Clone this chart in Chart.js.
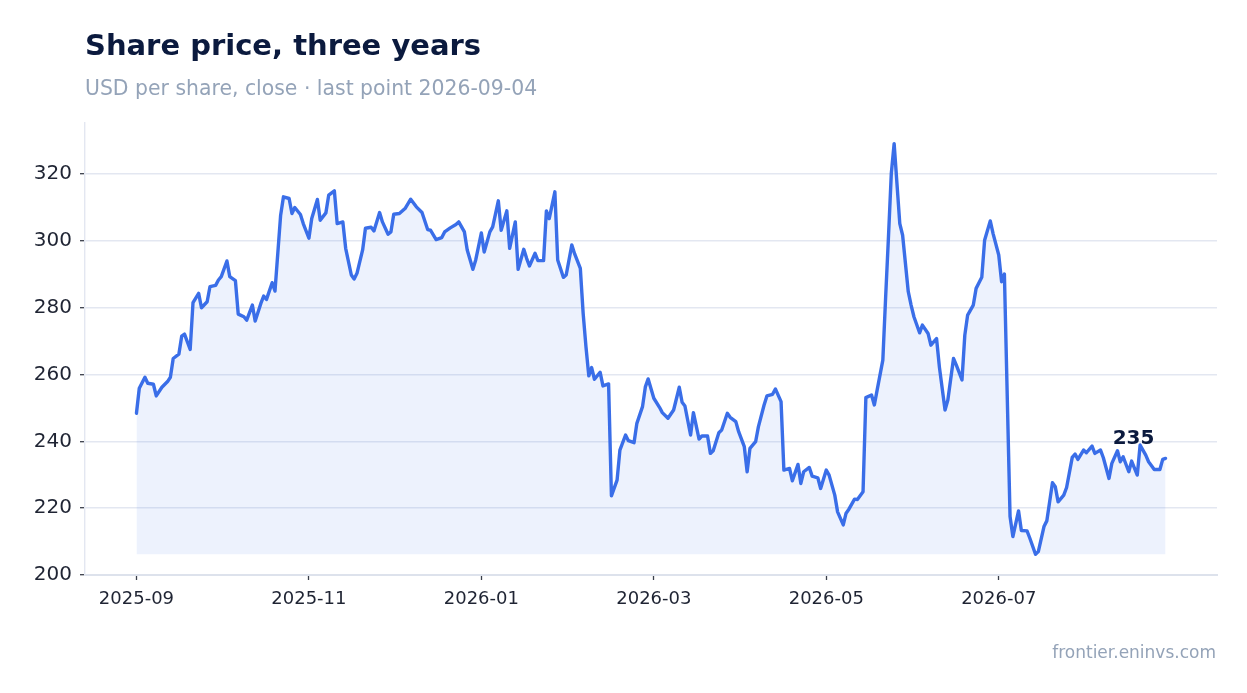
<!DOCTYPE html>
<html>
<head>
<meta charset="utf-8">
<script src="https://cdn.jsdelivr.net/npm/chart.js@4/dist/chart.umd.min.js"></script>
<style>
  html, body { margin: 0; padding: 0; background: #ffffff; }
  #c { display: block; }
</style>
</head>
<body>
<canvas id="c" width="1247" height="693"></canvas>
<script>
// days since 2025-09-05 (first close) and closing price, USD
let dayIndex = [0,1,3,4,6,7,9,11,12,13,15,16,17,19,20,22,23,25,26,28,
29,30,32,33,35,36,38,39,41,42,44,45,46,48,49,51,52,54,55,56,
58,59,61,62,64,65,67,68,70,71,73,74,76,77,78,80,81,83,84,86,
87,89,90,91,93,95,97,99,101,103,104,106,108,109,111,113,114,116,117,119,
120,122,123,125,126,128,129,131,132,134,135,137,138,139,141,142,144,145,146,148,
149,151,152,154,155,157,158,159,160,161,162,164,165,167,168,170,171,173,174,176,
177,179,180,181,183,185,186,188,190,192,193,194,196,197,199,200,202,203,204,206,
207,209,210,212,213,215,216,217,219,220,222,223,225,226,228,229,231,232,234,235,
236,238,239,241,242,244,245,247,248,250,251,252,254,255,257,258,260,261,262,264,
265,266,267,268,270,271,273,274,275,277,278,280,281,283,284,286,287,289,290,292,
293,294,296,297,299,300,302,303,305,306,307,309,310,312,313,315,316,318,319,321,
322,324,325,326,328,329,331,332,333,335,336,338,339,341,342,344,345,347,348,349,
351,352,354,355,357,358,360,362,363,364];

let closePrice = [248.4,255.9,259.2,257.4,257.1,253.6,256.2,257.9,259.2,264.8,
266.1,271.5,272.1,267.5,281.5,284.3,280.0,281.8,286.3,286.7,
288.3,289.3,294.0,289.3,288.1,278.1,277.3,276.3,280.8,276.0,
281.3,283.5,282.5,287.5,285.0,307.7,313.2,312.7,308.2,310.0,
307.9,305.2,300.8,306.7,312.4,306.2,308.4,313.7,315.0,305.2,
305.7,297.8,289.8,288.6,290.3,297.3,303.8,304.1,303.0,308.5,
305.7,302.0,302.7,308.0,308.2,309.7,312.5,310.2,308.5,303.4,
303.2,300.4,301.0,302.7,303.9,304.9,305.7,302.7,297.3,291.5,
294.3,302.4,296.7,302.7,304.2,312.0,303.2,309.0,297.8,305.7,
291.5,297.5,294.8,292.5,296.3,294.1,294.1,309.0,306.7,314.7,
294.3,289.1,289.8,298.8,296.1,291.8,278.3,268.3,259.6,262.1,
258.6,260.7,256.6,257.2,223.7,228.4,237.4,241.9,240.2,239.6,
245.4,250.4,256.3,258.7,252.9,250.2,248.6,246.9,249.4,256.2,
251.7,250.6,241.9,248.6,240.7,241.6,241.6,236.4,237.2,242.6,
243.4,248.4,247.2,245.9,242.9,238.4,230.9,237.9,239.9,244.4,
250.9,253.6,254.1,255.7,251.9,231.4,231.9,228.2,233.1,227.4,
230.9,232.2,229.6,229.1,225.9,231.4,229.9,223.9,218.9,215.0,
218.5,219.7,222.7,222.6,224.9,253.1,253.9,250.9,255.4,264.3,
283.3,301.3,320.2,329.1,305.2,301.7,284.8,280.8,277.3,272.5,
274.8,272.3,268.8,270.8,262.3,249.4,252.4,264.8,262.8,258.4,
271.8,277.8,280.8,285.8,289.1,300.2,306.0,302.2,295.8,287.8,
290.1,217.5,211.5,219.2,213.3,213.2,211.0,206.2,207.0,214.5,
216.2,227.6,226.4,221.9,223.9,226.2,235.2,236.2,234.6,237.4,
236.6,238.6,236.4,237.4,235.1,228.9,233.4,237.2,233.9,235.4,
230.9,234.1,229.9,238.9,235.9,233.9,231.6,231.6,234.6,234.9];

// a tick every 61 days from the first close
let tickLabels = ['2025-09', '2025-11', '2026-01', '2026-03', '2026-05', '2026-07'];
const tickStepDays = 61;

const titleText = 'Share price, three years';
const subtitleText = 'USD per share, close \u00b7 last point 2026-09-04';
const sourceText = 'frontier.eninvs.com';

const lineColor = '#3a6ee8';
const inkColor = '#0b1a3e';
const mutedColor = '#94a3b8';
const gridColor = '#e3e7f1';
const fontFamily = '"DejaVu Sans", sans-serif';

const points = dayIndex.map((d, i) => ({ x: d, y: closePrice[i] }));
const lowest = Math.min(...closePrice);
const lastPrice = closePrice[closePrice.length - 1];
const xPad = (dayIndex[dayIndex.length - 1] - dayIndex[0]) * 0.05;

const textPlugin = {
    id: 'pageTexts',
    afterDraw(chart) {
        const ctx = chart.ctx;
        const left = chart.chartArea.left;
        ctx.save();
        ctx.textBaseline = 'alphabetic';
        ctx.textAlign = 'left';
        ctx.fillStyle = inkColor;
        ctx.font = 'bold 29px ' + fontFamily;
        ctx.fillText(titleText, left, 55);
        ctx.fillStyle = mutedColor;
        ctx.font = '20.4px ' + fontFamily;
        ctx.fillText(subtitleText, left, 95);
        ctx.textAlign = 'right';
        ctx.font = '17px ' + fontFamily;
        ctx.fillText(sourceText, chart.chartArea.right - 1, 658);

        // value of the last close
        const meta = chart.getDatasetMeta(0);
        const last = meta.data[meta.data.length - 1];
        ctx.textAlign = 'center';
        ctx.fillStyle = inkColor;
        ctx.font = 'bold 20px ' + fontFamily;
        ctx.fillText(String(Math.round(lastPrice)), last.x - 32, last.y - 14);
        ctx.restore();
    }
};

let chartElement = document.getElementById('c').getContext('2d');

let priceChart = new Chart(chartElement, {
    type: 'line',
    data: {
        datasets: [{
            data: points,
            borderColor: lineColor,
            borderWidth: 3.4,
            borderJoinStyle: 'round',
            borderCapStyle: 'round',
            backgroundColor: 'rgba(58,110,232,0.09)',
            fill: { value: lowest },
            pointRadius: 0,
            tension: 0
        }]
    },
    options: {
        responsive: false,
        animation: false,
        layout: { padding: { left: 0, top: 123, right: 30, bottom: 78 } },
        plugins: {
            legend: { display: false },
            tooltip: { enabled: false }
        },
        scales: {
            x: {
                type: 'linear',
                min: dayIndex[0] - xPad,
                max: dayIndex[dayIndex.length - 1] + xPad,
                afterBuildTicks: scale => {
                    scale.ticks = tickLabels.map((_, i) => ({ value: dayIndex[0] + i * tickStepDays }));
                },
                afterFit: scale => { scale.height = 40; },
                grid: {
                    drawOnChartArea: false,
                    drawTicks: true,
                    tickLength: 5,
                    tickColor: '#3a3f4a',
                    tickWidth: 1.3
                },
                border: { color: '#dde2ec', width: 2 },
                ticks: {
                    autoSkip: false,
                    maxRotation: 0,
                    padding: 9,
                    color: '#1f2433',
                    font: { family: fontFamily, size: 18 },
                    callback: (v, i) => tickLabels[i]
                }
            },
            y: {
                min: 200,
                max: 335.3,
                afterFit: scale => { scale.width = 85; },
                grid: {
                    color: gridColor,
                    lineWidth: 1.4,
                    drawTicks: true,
                    tickLength: 5,
                    tickColor: '#3a3f4a',
                    tickWidth: 1.3
                },
                border: { color: gridColor, width: 1.4 },
                ticks: {
                    stepSize: 20,
                    includeBounds: false,
                    padding: 8,
                    color: '#1f2433',
                    font: { family: fontFamily, size: 20 },
                    callback: v => String(v)
                }
            }
        }
    },
    plugins: [textPlugin]
});
</script>
</body>
</html>
